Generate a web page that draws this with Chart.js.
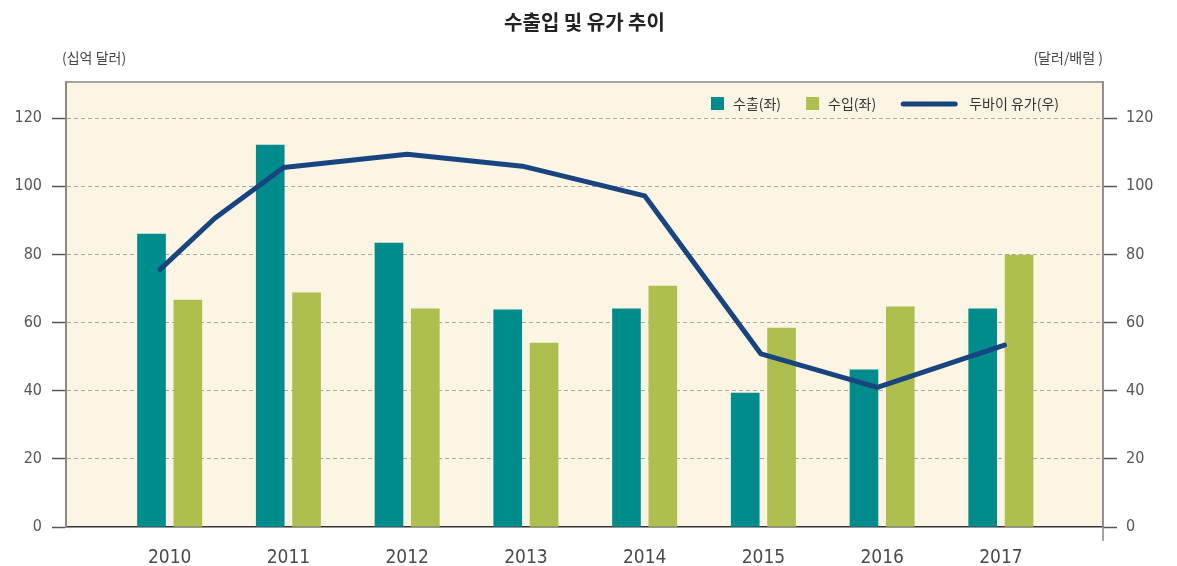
<!DOCTYPE html>
<html>
<head>
<meta charset="utf-8">
<script src="https://cdn.jsdelivr.net/npm/chart.js@4/dist/chart.umd.min.js"></script>
<style>
html,body{margin:0;padding:0;background:#fff;}
#wrap{width:1177px;height:566px;position:relative;}
</style>
</head>
<body>
<div id="wrap"><canvas id="c" width="1177" height="566"></canvas></div>
<script>
// ---- data ----
const years = [2010, 2011, 2012, 2013, 2014, 2015, 2016, 2017];
const yearLabels = ['2010', '2011', '2012', '2013', '2014', '2015', '2016', '2017'];
const exportsVals = [86.0, 112.1, 83.3, 63.7, 64.0, 39.3, 46.1, 64.0];
const importsVals = [66.6, 68.7, 64.0, 54.0, 70.7, 58.4, 64.6, 79.8];
const oilDates = [2009.92, 2010.38, 2010.96, 2012.0, 2012.97, 2014.0, 2014.98, 2015.96, 2017.03];
const oilPrice = [75.6, 90.6, 105.5, 109.4, 105.9, 97.2, 50.8, 41.0, 53.4];
const leftTicks = [0, 20, 40, 60, 80, 100, 120];
const seriesNames = ['수출(좌)', '수입(좌)', '두바이 유가(우)'];
const titleText = '수출입 및 유가 추이';
const leftUnit = '(십억 달러)';
const rightUnit = '(달러/배럴 )';

const C_EXP = '#008c8c';
const C_IMP = '#aebf50';
const C_OIL = '#18457f';
const BG = '#fcf5e3';
const KFONT = '"Noto Sans CJK KR", "Noto Sans", sans-serif';
const NFONT = '"Liberation Sans Narrow", "DejaVu Sans Condensed", "Roboto", sans-serif';

const barShift = 0.153;
const expData = years.map((y, i) => ({x: y - barShift, y: exportsVals[i]}));
const impData = years.map((y, i) => ({x: y + barShift, y: importsVals[i]}));
const oilData = oilDates.map((d, i) => ({x: d, y: oilPrice[i]}));

const decor = {
  id: 'decor',
  beforeDraw(chart) {
    const {ctx, chartArea: a} = chart;
    ctx.save();
    ctx.fillStyle = BG;
    ctx.fillRect(a.left, a.top, a.right - a.left, a.bottom - a.top);
    ctx.restore();
  },
  afterDraw(chart) {
    const {ctx, chartArea: a} = chart;
    ctx.save();
    ctx.strokeStyle = '#8c8882';
    ctx.lineWidth = 1.5;
    ctx.beginPath();
    ctx.moveTo(a.left, a.top);
    ctx.lineTo(a.right, a.top);
    ctx.lineTo(a.right, a.bottom + 14);
    ctx.stroke();
    ctx.fillStyle = '#222';
    ctx.font = 'bold 20px ' + KFONT;
    ctx.textAlign = 'center';
    ctx.textBaseline = 'middle';
    ctx.fillText(titleText, (a.left + a.right) / 2, 22);
    ctx.font = '14px ' + KFONT;
    ctx.fillStyle = '#444';
    ctx.textAlign = 'left';
    ctx.fillText(leftUnit, a.left - 4, 58);
    ctx.textAlign = 'right';
    ctx.fillText(rightUnit, a.right, 58);
    ctx.textAlign = 'left';
    const ly = a.top + 22;
    let x = a.right - 392;
    ctx.fillStyle = C_EXP;
    ctx.fillRect(x, ly - 7, 13, 13);
    x += 22;
    ctx.fillStyle = '#333';
    ctx.fillText(seriesNames[0], x, ly);
    x += ctx.measureText(seriesNames[0]).width + 25;
    ctx.fillStyle = C_IMP;
    ctx.fillRect(x, ly - 7, 13, 13);
    x += 22;
    ctx.fillStyle = '#333';
    ctx.fillText(seriesNames[1], x, ly);
    x += ctx.measureText(seriesNames[1]).width + 25;
    ctx.strokeStyle = C_OIL;
    ctx.lineWidth = 5;
    ctx.lineCap = 'round';
    ctx.beginPath();
    ctx.moveTo(x + 2, ly);
    ctx.lineTo(x + 54, ly);
    ctx.stroke();
    x += 68;
    ctx.fillText(seriesNames[2], x, ly);
    ctx.restore();
  }
};

const yGridColor = (c) => (c.tick && c.tick.value === 0) ? 'rgba(0,0,0,0)' : '#aaa6a0';

new Chart(document.getElementById('c'), {
  type: 'bar',
  data: {
    datasets: [
      {type: 'line', label: seriesNames[2], data: oilData, yAxisID: 'y2', borderColor: C_OIL,
       borderWidth: 5, borderCapStyle: 'round', borderJoinStyle: 'round', pointRadius: 0,
       tension: 0, fill: false, order: 0},
      {label: seriesNames[0], data: expData, backgroundColor: C_EXP, yAxisID: 'y', order: 1},
      {label: seriesNames[1], data: impData, backgroundColor: C_IMP, yAxisID: 'y', order: 1}
    ]
  },
  options: {
    responsive: false,
    animation: false,
    grouped: false,
    barThickness: 28,
    layout: {padding: {top: 82, left: 0, right: 0, bottom: 0}},
    plugins: {legend: {display: false}, tooltip: {enabled: false}, title: {display: false}},
    scales: {
      x: {
        type: 'linear', min: 2009.127, max: 2017.86, offset: false,
        afterBuildTicks: (s) => { s.ticks = years.map(v => ({value: v})); },
        afterFit: (s) => { s.height = 39; },
        ticks: {
          callback: (v) => { const i = years.indexOf(v); return i >= 0 ? yearLabels[i] : ''; },
          font: {family: NFONT, size: 19}, color: '#4a4a4a', padding: 20, maxRotation: 0, autoSkip: false
        },
        grid: {display: false, drawTicks: false, offset: false},
        border: {display: true, color: '#333', width: 1.5}
      },
      y: {
        position: 'left', min: 0, max: 130.6,
        afterBuildTicks: (s) => { s.ticks = leftTicks.map(v => ({value: v})); },
        afterFit: (s) => { s.width = 66; },
        ticks: {font: {family: NFONT, size: 16}, color: '#555', padding: 10},
        grid: {color: yGridColor, lineWidth: 1, tickLength: 14, tickColor: '#555', tickWidth: 1.5, drawTicks: true},
        border: {display: true, color: '#8c8882', width: 2, dash: [4, 3]}
      },
      y2: {
        position: 'right', min: 0, max: 130.6,
        afterBuildTicks: (s) => { s.ticks = leftTicks.map(v => ({value: v})); },
        afterFit: (s) => { s.width = 74; },
        ticks: {font: {family: NFONT, size: 16}, color: '#555', padding: 9},
        grid: {drawOnChartArea: false, tickLength: 14, tickColor: '#555', tickWidth: 1.5, drawTicks: true},
        border: {display: true, color: '#8c8882', width: 1.5}
      }
    }
  },
  plugins: [decor]
});
</script>
</body>
</html>
